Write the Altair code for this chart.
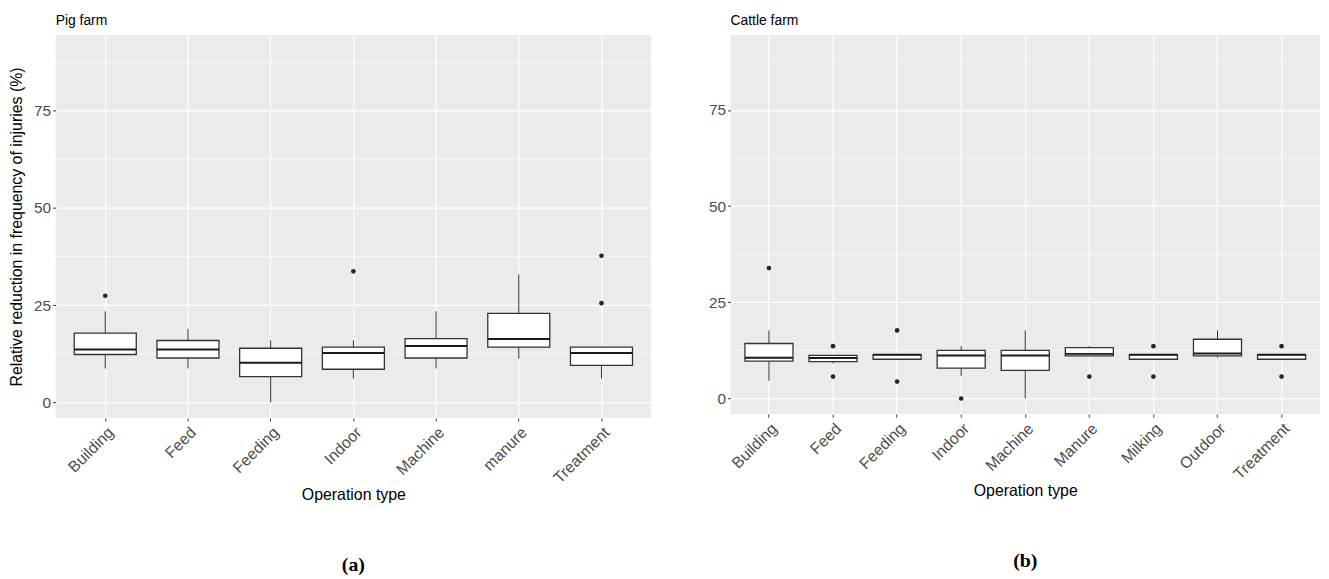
import altair as alt
import pandas as pd

# ---- Pig farm (a) ----
pig_cats = ["Building", "Feed", "Feeding", "Indoor", "Machine", "manure", "Treatment"]
pig_low = [8.7, 8.7, 0.0, 6.1, 8.7, 11.2, 6.1]
pig_q1 = [12.3, 11.4, 6.6, 8.5, 11.4, 14.2, 9.5]
pig_med = [13.6, 13.6, 10.2, 12.7, 14.5, 16.3, 12.7]
pig_q3 = [17.8, 15.9, 13.9, 14.2, 16.4, 22.9, 14.2]
pig_high = [23.4, 18.9, 15.9, 15.9, 23.4, 32.9, 14.2]
pig_out_cat = ["Building", "Indoor", "Treatment", "Treatment"]
pig_out_val = [27.4, 33.7, 37.7, 25.5]

# ---- Cattle farm (b) ----
cattle_cats = ["Building", "Feed", "Feeding", "Indoor", "Machine", "Manure", "Milking", "Outdoor", "Treatment"]
cattle_low = [4.6, 9.1, 10.2, 5.9, 0.0, 11.1, 10.2, 10.6, 10.2]
cattle_q1 = [9.7, 9.6, 10.2, 7.9, 7.3, 11.1, 10.2, 11.1, 10.2]
cattle_med = [10.6, 10.5, 11.4, 11.2, 11.2, 11.6, 11.4, 11.7, 11.4]
cattle_q3 = [14.3, 11.2, 11.4, 12.5, 12.5, 13.2, 11.4, 15.4, 11.4]
cattle_high = [17.7, 11.2, 11.6, 13.6, 17.7, 13.6, 11.6, 17.7, 11.6]
cattle_out_cat = ["Building", "Feed", "Feed", "Feeding", "Feeding", "Indoor",
                  "Manure", "Milking", "Milking", "Treatment", "Treatment"]
cattle_out_val = [33.9, 13.6, 5.7, 17.7, 4.4, 0.0, 5.7, 13.6, 5.7, 13.6, 5.7]

y_breaks = [0, 25, 50, 75]
y_minor = [12.5, 37.5, 62.5, 87.5]

FONT = "Liberation Sans"
Y_TITLE = "Relative reduction in frequency of injuries (%)"


def panel(title, cats, low, q1, med, q3, high, oc, ov, caption, width, height, ytitle):
    box = pd.DataFrame(dict(cat=cats, low=low, q1=q1, med=med, q3=q3, high=high))
    out = pd.DataFrame(dict(cat=oc, val=ov))
    minor = pd.DataFrame(dict(v=y_minor))
    cap = pd.DataFrame(dict(t=[caption]))

    xs = alt.Scale(domain=cats, paddingInner=0.25, paddingOuter=0.225)
    ys = alt.Scale(domain=[-4.05, 94.5], nice=False, zero=False)

    xaxis = alt.Axis(
        title="Operation type", labelAngle=-45, labelAlign="right", labelBaseline="top",
        labelFontSize=16, labelColor="#4D4D4D", labelFont=FONT, labelPadding=3,
        titleFont=FONT, titleFontSize=16, titleFontWeight="normal", titleColor="#000000",
        titlePadding=1, grid=True, gridColor="#FFFFFF", gridWidth=1.2, bandPosition=0.5,
        domain=False, ticks=True, tickColor="#333333", tickSize=3, tickBand="center",
    )
    yaxis_args = dict(
        values=y_breaks, labelFontSize=15.5, labelColor="#4D4D4D", labelFont=FONT,
        labelPadding=2, grid=True, gridColor="#FFFFFF", gridWidth=1.2, domain=False,
        ticks=True, tickColor="#333333", tickSize=3,
    )
    if ytitle:
        yaxis = alt.Axis(title=Y_TITLE, titleFont=FONT, titleFontSize=16,
                         titleFontWeight="normal", titleColor="#000000", titlePadding=9,
                         **yaxis_args)
    else:
        yaxis = alt.Axis(title=None, **yaxis_args)

    X = alt.X("cat:N", scale=xs, axis=xaxis, sort=cats)

    minor_rules = alt.Chart(minor).mark_rule(color="#FFFFFF", strokeWidth=0.6).encode(
        y=alt.Y("v:Q", scale=ys, axis=yaxis)
    )
    whisk = alt.Chart(box).mark_rule(color="#333333", strokeWidth=1.0).encode(
        x=X, y=alt.Y("low:Q", scale=ys, axis=yaxis), y2="high:Q"
    )
    boxes = alt.Chart(box).mark_bar(fill="#FFFFFF", stroke="#333333", strokeWidth=1.3).encode(
        x=X, y=alt.Y("q1:Q", scale=ys, axis=yaxis), y2="q3:Q"
    )
    medians = alt.Chart(box).mark_bar(fill="#FFFFFF", stroke="#1A1A1A", strokeWidth=2.0).encode(
        x=X, y=alt.Y("med:Q", scale=ys, axis=yaxis), y2="med:Q"
    )
    outl = alt.Chart(out).mark_circle(size=22, color="#262626", opacity=1).encode(
        x=X, y=alt.Y("val:Q", scale=ys, axis=yaxis)
    )
    captext = alt.Chart(cap).mark_text(
        font="Liberation Serif", fontSize=20, fontWeight="bold", color="#000000",
        align="center", baseline="middle"
    ).encode(text="t:N", x=alt.value(width / 2), y=alt.value(height + 148))

    return alt.layer(minor_rules, whisk, boxes, medians, outl, captext).properties(
        width=width, height=height,
        title=alt.Title(title, anchor="start", frame="group", fontSize=14,
                        fontWeight="normal", font=FONT, color="#000000", offset=7),
    )


left = panel("Pig farm", pig_cats, pig_low, pig_q1, pig_med, pig_q3, pig_high,
             pig_out_cat, pig_out_val, "(a)", 600, 386, True)
right = panel("Cattle farm", cattle_cats, cattle_low, cattle_q1, cattle_med, cattle_q3,
              cattle_high, cattle_out_cat, cattle_out_val, "(b)", 594, 382, False)

chart = alt.hconcat(left, right, spacing=56).properties(
    padding={"top": 4, "left": 0, "right": 0, "bottom": 0}
).configure(
    background="#FFFFFF",
    view=alt.ViewConfig(fill="#EBEBEB", strokeWidth=0, stroke=None),
)

chart.save("out.html", embed_options={"renderer": "svg", "actions": False})
